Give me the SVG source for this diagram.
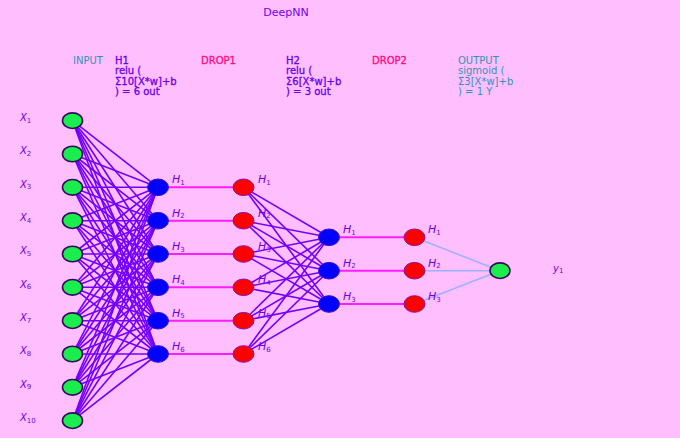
<svg xmlns="http://www.w3.org/2000/svg" width="680" height="438" viewBox="0 0 680 438">
<style>
text{font-family:"DejaVu Sans","Liberation Sans",sans-serif}
.hd{font-size:10px}
.pu{fill:#6a00ea;stroke:#6a00ea;stroke-width:0.3}
.tl{fill:#2f93b8}
.dr{fill:#ff0a80;stroke:#ff0a80;stroke-width:0.3}
.m{font-style:italic;fill:#6e00e0}
.mx{font-size:10px}
.mh{font-size:11px}
.sb{font-size:7px;font-style:normal}
.e1 line{stroke:#7300ff;stroke-width:1.6}
.e2 line{stroke:#ff1cff;stroke-width:2}
.e3 line{stroke:#9fb0ff;stroke-width:1.5}
.in{fill:#1aee4e;stroke:#33085e;stroke-width:1.6}
.hb{fill:#0000ff;stroke:#3a10c0;stroke-width:1}
.dp{fill:#ff0000;stroke:#8a10a0;stroke-width:1}
</style>
<rect width="680" height="438" fill="#ffbfff"/>
<text x="286" y="15.5" font-size="11" text-anchor="middle" fill="#7000e8">DeepNN</text>
<g id="headers" class="hd">
<text x="73" y="63.5" class="tl">INPUT</text>
<text class="pu"><tspan x="115" y="63.5">H1</tspan><tspan x="115" y="74.1">relu (</tspan><tspan x="115" y="84.7">Σ10[X*w]+b</tspan><tspan x="115" y="95.3">) = 6 out</tspan></text>
<text x="201" y="63.5" class="dr">DROP1</text>
<text class="pu"><tspan x="286" y="63.5">H2</tspan><tspan x="286" y="74.1">relu (</tspan><tspan x="286" y="84.7">Σ6[X*w]+b</tspan><tspan x="286" y="95.3">) = 3 out</tspan></text>
<text x="372" y="63.5" class="dr">DROP2</text>
<text class="tl"><tspan x="458" y="63.5">OUTPUT</tspan><tspan x="458" y="74.1">sigmoid (</tspan><tspan x="458" y="84.7">Σ3[X*w]+b</tspan><tspan x="458" y="95.3">) = 1 Y</tspan></text>
</g>
<g id="connectors">
<g class="e1">
<line x1="72.5" y1="120.7" x2="158" y2="187.3"/><line x1="72.5" y1="120.7" x2="158" y2="220.7"/><line x1="72.5" y1="120.7" x2="158" y2="254"/><line x1="72.5" y1="120.7" x2="158" y2="287.3"/><line x1="72.5" y1="120.7" x2="158" y2="320.7"/><line x1="72.5" y1="120.7" x2="158" y2="354"/>
<line x1="72.5" y1="154" x2="158" y2="187.3"/><line x1="72.5" y1="154" x2="158" y2="220.7"/><line x1="72.5" y1="154" x2="158" y2="254"/><line x1="72.5" y1="154" x2="158" y2="287.3"/><line x1="72.5" y1="154" x2="158" y2="320.7"/><line x1="72.5" y1="154" x2="158" y2="354"/>
<line x1="72.5" y1="187.3" x2="158" y2="187.3"/><line x1="72.5" y1="187.3" x2="158" y2="220.7"/><line x1="72.5" y1="187.3" x2="158" y2="254"/><line x1="72.5" y1="187.3" x2="158" y2="287.3"/><line x1="72.5" y1="187.3" x2="158" y2="320.7"/><line x1="72.5" y1="187.3" x2="158" y2="354"/>
<line x1="72.5" y1="220.7" x2="158" y2="187.3"/><line x1="72.5" y1="220.7" x2="158" y2="220.7"/><line x1="72.5" y1="220.7" x2="158" y2="254"/><line x1="72.5" y1="220.7" x2="158" y2="287.3"/><line x1="72.5" y1="220.7" x2="158" y2="320.7"/><line x1="72.5" y1="220.7" x2="158" y2="354"/>
<line x1="72.5" y1="254" x2="158" y2="187.3"/><line x1="72.5" y1="254" x2="158" y2="220.7"/><line x1="72.5" y1="254" x2="158" y2="254"/><line x1="72.5" y1="254" x2="158" y2="287.3"/><line x1="72.5" y1="254" x2="158" y2="320.7"/><line x1="72.5" y1="254" x2="158" y2="354"/>
<line x1="72.5" y1="287.3" x2="158" y2="187.3"/><line x1="72.5" y1="287.3" x2="158" y2="220.7"/><line x1="72.5" y1="287.3" x2="158" y2="254"/><line x1="72.5" y1="287.3" x2="158" y2="287.3"/><line x1="72.5" y1="287.3" x2="158" y2="320.7"/><line x1="72.5" y1="287.3" x2="158" y2="354"/>
<line x1="72.5" y1="320.7" x2="158" y2="187.3"/><line x1="72.5" y1="320.7" x2="158" y2="220.7"/><line x1="72.5" y1="320.7" x2="158" y2="254"/><line x1="72.5" y1="320.7" x2="158" y2="287.3"/><line x1="72.5" y1="320.7" x2="158" y2="320.7"/><line x1="72.5" y1="320.7" x2="158" y2="354"/>
<line x1="72.5" y1="354" x2="158" y2="187.3"/><line x1="72.5" y1="354" x2="158" y2="220.7"/><line x1="72.5" y1="354" x2="158" y2="254"/><line x1="72.5" y1="354" x2="158" y2="287.3"/><line x1="72.5" y1="354" x2="158" y2="320.7"/><line x1="72.5" y1="354" x2="158" y2="354"/>
<line x1="72.5" y1="387.3" x2="158" y2="187.3"/><line x1="72.5" y1="387.3" x2="158" y2="220.7"/><line x1="72.5" y1="387.3" x2="158" y2="254"/><line x1="72.5" y1="387.3" x2="158" y2="287.3"/><line x1="72.5" y1="387.3" x2="158" y2="320.7"/><line x1="72.5" y1="387.3" x2="158" y2="354"/>
<line x1="72.5" y1="420.7" x2="158" y2="187.3"/><line x1="72.5" y1="420.7" x2="158" y2="220.7"/><line x1="72.5" y1="420.7" x2="158" y2="254"/><line x1="72.5" y1="420.7" x2="158" y2="287.3"/><line x1="72.5" y1="420.7" x2="158" y2="320.7"/><line x1="72.5" y1="420.7" x2="158" y2="354"/>
<line x1="243.5" y1="187.3" x2="329" y2="237.3"/><line x1="243.5" y1="187.3" x2="329" y2="270.7"/><line x1="243.5" y1="187.3" x2="329" y2="304"/>
<line x1="243.5" y1="220.7" x2="329" y2="237.3"/><line x1="243.5" y1="220.7" x2="329" y2="270.7"/><line x1="243.5" y1="220.7" x2="329" y2="304"/>
<line x1="243.5" y1="254" x2="329" y2="237.3"/><line x1="243.5" y1="254" x2="329" y2="270.7"/><line x1="243.5" y1="254" x2="329" y2="304"/>
<line x1="243.5" y1="287.3" x2="329" y2="237.3"/><line x1="243.5" y1="287.3" x2="329" y2="270.7"/><line x1="243.5" y1="287.3" x2="329" y2="304"/>
<line x1="243.5" y1="320.7" x2="329" y2="237.3"/><line x1="243.5" y1="320.7" x2="329" y2="270.7"/><line x1="243.5" y1="320.7" x2="329" y2="304"/>
<line x1="243.5" y1="354" x2="329" y2="237.3"/><line x1="243.5" y1="354" x2="329" y2="270.7"/><line x1="243.5" y1="354" x2="329" y2="304"/>
</g>
<g class="e2">
<line x1="158" y1="187.3" x2="243.5" y2="187.3"/><line x1="158" y1="220.7" x2="243.5" y2="220.7"/><line x1="158" y1="254" x2="243.5" y2="254"/><line x1="158" y1="287.3" x2="243.5" y2="287.3"/><line x1="158" y1="320.7" x2="243.5" y2="320.7"/><line x1="158" y1="354" x2="243.5" y2="354"/>
<line x1="329" y1="237.3" x2="414.5" y2="237.3"/><line x1="329" y1="270.7" x2="414.5" y2="270.7"/><line x1="329" y1="304" x2="414.5" y2="304"/>
</g>
<g class="e3">
<line x1="414.5" y1="237.3" x2="500" y2="270.7"/><line x1="414.5" y1="270.7" x2="500" y2="270.7"/><line x1="414.5" y1="304" x2="500" y2="270.7"/>
</g>
</g>
<g id="input">
<g id="x1"><ellipse cx="72.5" cy="120.7" rx="10" ry="7.8" class="in"/><text x="20" y="121" class="m mx">X<tspan class="sb" dy="1.5">1</tspan></text></g>
<g id="x2"><ellipse cx="72.5" cy="154" rx="10" ry="7.8" class="in"/><text x="20" y="154.3" class="m mx">X<tspan class="sb" dy="1.5">2</tspan></text></g>
<g id="x3"><ellipse cx="72.5" cy="187.3" rx="10" ry="7.8" class="in"/><text x="20" y="187.6" class="m mx">X<tspan class="sb" dy="1.5">3</tspan></text></g>
<g id="x4"><ellipse cx="72.5" cy="220.7" rx="10" ry="7.8" class="in"/><text x="20" y="221" class="m mx">X<tspan class="sb" dy="1.5">4</tspan></text></g>
<g id="x5"><ellipse cx="72.5" cy="254" rx="10" ry="7.8" class="in"/><text x="20" y="254.3" class="m mx">X<tspan class="sb" dy="1.5">5</tspan></text></g>
<g id="x6"><ellipse cx="72.5" cy="287.3" rx="10" ry="7.8" class="in"/><text x="20" y="287.6" class="m mx">X<tspan class="sb" dy="1.5">6</tspan></text></g>
<g id="x7"><ellipse cx="72.5" cy="320.7" rx="10" ry="7.8" class="in"/><text x="20" y="321" class="m mx">X<tspan class="sb" dy="1.5">7</tspan></text></g>
<g id="x8"><ellipse cx="72.5" cy="354" rx="10" ry="7.8" class="in"/><text x="20" y="354.3" class="m mx">X<tspan class="sb" dy="1.5">8</tspan></text></g>
<g id="x9"><ellipse cx="72.5" cy="387.3" rx="10" ry="7.8" class="in"/><text x="20" y="387.6" class="m mx">X<tspan class="sb" dy="1.5">9</tspan></text></g>
<g id="x10"><ellipse cx="72.5" cy="420.7" rx="10" ry="7.8" class="in"/><text x="20" y="421" class="m mx">X<tspan class="sb" dy="1.5">10</tspan></text></g>
</g>
<g id="hidden1">
<g id="h1_1"><ellipse cx="158" cy="187.3" rx="10.5" ry="8.3" class="hb"/><text x="172" y="183.3" class="m mh">H<tspan class="sb" dy="1.5">1</tspan></text></g>
<g id="h1_2"><ellipse cx="158" cy="220.7" rx="10.5" ry="8.3" class="hb"/><text x="172" y="216.7" class="m mh">H<tspan class="sb" dy="1.5">2</tspan></text></g>
<g id="h1_3"><ellipse cx="158" cy="254" rx="10.5" ry="8.3" class="hb"/><text x="172" y="250" class="m mh">H<tspan class="sb" dy="1.5">3</tspan></text></g>
<g id="h1_4"><ellipse cx="158" cy="287.3" rx="10.5" ry="8.3" class="hb"/><text x="172" y="283.3" class="m mh">H<tspan class="sb" dy="1.5">4</tspan></text></g>
<g id="h1_5"><ellipse cx="158" cy="320.7" rx="10.5" ry="8.3" class="hb"/><text x="172" y="316.7" class="m mh">H<tspan class="sb" dy="1.5">5</tspan></text></g>
<g id="h1_6"><ellipse cx="158" cy="354" rx="10.5" ry="8.3" class="hb"/><text x="172" y="350" class="m mh">H<tspan class="sb" dy="1.5">6</tspan></text></g>
</g>
<g id="drop1">
<g id="d1_1"><ellipse cx="243.5" cy="187.3" rx="10.5" ry="8.3" class="dp"/><text x="258" y="183.3" class="m mh">H<tspan class="sb" dy="1.5">1</tspan></text></g>
<g id="d1_2"><ellipse cx="243.5" cy="220.7" rx="10.5" ry="8.3" class="dp"/><text x="258" y="216.7" class="m mh">H<tspan class="sb" dy="1.5">2</tspan></text></g>
<g id="d1_3"><ellipse cx="243.5" cy="254" rx="10.5" ry="8.3" class="dp"/><text x="258" y="250" class="m mh">H<tspan class="sb" dy="1.5">3</tspan></text></g>
<g id="d1_4"><ellipse cx="243.5" cy="287.3" rx="10.5" ry="8.3" class="dp"/><text x="258" y="283.3" class="m mh">H<tspan class="sb" dy="1.5">4</tspan></text></g>
<g id="d1_5"><ellipse cx="243.5" cy="320.7" rx="10.5" ry="8.3" class="dp"/><text x="258" y="316.7" class="m mh">H<tspan class="sb" dy="1.5">5</tspan></text></g>
<g id="d1_6"><ellipse cx="243.5" cy="354" rx="10.5" ry="8.3" class="dp"/><text x="258" y="350" class="m mh">H<tspan class="sb" dy="1.5">6</tspan></text></g>
</g>
<g id="hidden2">
<g id="h2_1"><ellipse cx="329" cy="237.3" rx="10.5" ry="8.3" class="hb"/><text x="343" y="233.3" class="m mh">H<tspan class="sb" dy="1.5">1</tspan></text></g>
<g id="h2_2"><ellipse cx="329" cy="270.7" rx="10.5" ry="8.3" class="hb"/><text x="343" y="266.7" class="m mh">H<tspan class="sb" dy="1.5">2</tspan></text></g>
<g id="h2_3"><ellipse cx="329" cy="304" rx="10.5" ry="8.3" class="hb"/><text x="343" y="300" class="m mh">H<tspan class="sb" dy="1.5">3</tspan></text></g>
</g>
<g id="drop2">
<g id="d2_1"><ellipse cx="414.5" cy="237.3" rx="10.5" ry="8.3" class="dp"/><text x="428" y="233.3" class="m mh">H<tspan class="sb" dy="1.5">1</tspan></text></g>
<g id="d2_2"><ellipse cx="414.5" cy="270.7" rx="10.5" ry="8.3" class="dp"/><text x="428" y="266.7" class="m mh">H<tspan class="sb" dy="1.5">2</tspan></text></g>
<g id="d2_3"><ellipse cx="414.5" cy="304" rx="10.5" ry="8.3" class="dp"/><text x="428" y="300" class="m mh">H<tspan class="sb" dy="1.5">3</tspan></text></g>
</g>
<g id="output">
<ellipse cx="500" cy="270.7" rx="10" ry="7.8" class="in"/>
<text x="553" y="271.5" class="m mx">y<tspan class="sb" dy="1.5">1</tspan></text>
</g>
</svg>
